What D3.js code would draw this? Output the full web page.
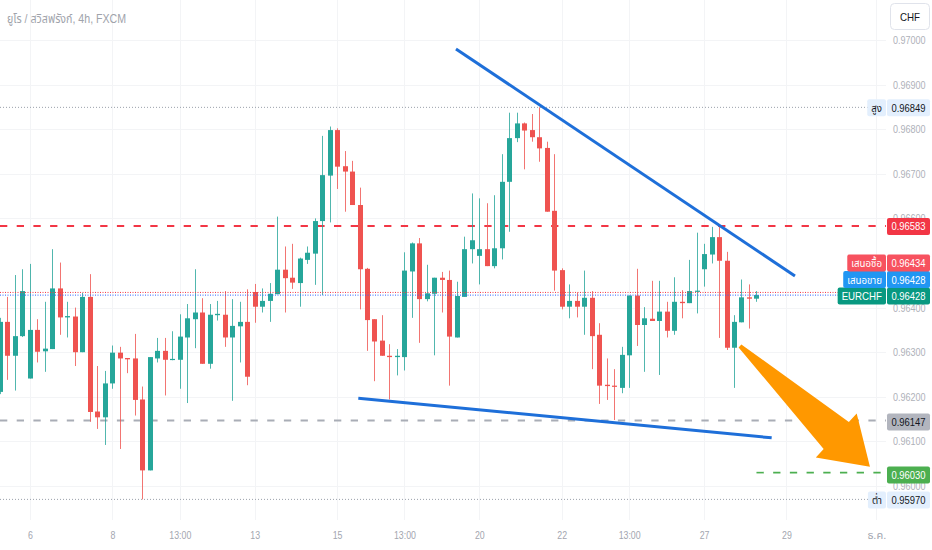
<!DOCTYPE html>
<html><head><meta charset="utf-8">
<script src="https://cdn.jsdelivr.net/npm/d3@7"></script>
<style>
body{margin:0;background:#fff;}
svg{display:block;font-family:"Liberation Sans Narrow","Liberation Sans","Noto Sans Thai","Noto Sans","DejaVu Sans",sans-serif;}
</style>
</head><body>
<svg id="c" width="932" height="550"></svg>
<script>
// ---- data (EURCHF 4h, FXCM) ----
const opens  = [0.96211,0.96368,0.96292,0.96336,0.96241,0.96350,0.96302,0.96307,0.96443,0.96378,
                0.96380,0.96300,0.96424,0.96167,0.96154,0.96230,0.96299,0.96287,0.96286,0.96194,
                0.96035,0.96286,0.96303,0.96283,0.96283,0.96333,0.96374,0.96389,0.96274,0.96383,
                0.96384,0.96333,0.96358,0.96368,0.96435,0.96402,0.96415,0.96430,0.96485,0.96467,
                0.96455,0.96507,0.96521,0.96594,0.96696,0.96798,0.96717,0.96705,0.96630,0.96487,
                0.96374,0.96326,0.96292,0.96289,0.96289,0.96481,0.96544,0.96419,0.96431,0.96467,
                0.96462,0.96333,0.96424,0.96531,0.96516,0.96531,0.96493,0.96533,0.96682,0.96780,
                0.96813,0.96798,0.96782,0.96758,0.96617,0.96484,0.96402,0.96415,0.96402,0.96422,
                0.96339,0.96227,0.96225,0.96220,0.96293,0.96427,0.96361,0.96375,0.96370,0.96391,
                0.96348,0.96413,0.96410,0.96436,0.96486,0.96519,0.96558,0.96505,0.96310,0.96367,
                0.96423,0.96420];
const highs  = [0.96377,0.96424,0.96473,0.96486,0.96498,0.96374,0.96413,0.96531,0.96501,0.96413,
                0.96400,0.96433,0.96475,0.96269,0.96258,0.96315,0.96312,0.96287,0.96341,0.96223,
                0.96289,0.96332,0.96332,0.96347,0.96385,0.96408,0.96486,0.96421,0.96408,0.96415,
                0.96437,0.96419,0.96413,0.96441,0.96453,0.96443,0.96455,0.96604,0.96537,0.96543,
                0.96512,0.96537,0.96600,0.96785,0.96806,0.96802,0.96751,0.96729,0.96669,0.96489,
                0.96374,0.96383,0.96318,0.96307,0.96524,0.96546,0.96556,0.96496,0.96467,0.96480,
                0.96483,0.96458,0.96559,0.96656,0.96645,0.96634,0.96652,0.96744,0.96837,0.96837,
                0.96815,0.96834,0.96849,0.96772,0.96744,0.96488,0.96452,0.96434,0.96483,0.96437,
                0.96365,0.96286,0.96262,0.96312,0.96427,0.96487,0.96401,0.96460,0.96460,0.96413,
                0.96468,0.96439,0.96507,0.96568,0.96543,0.96581,0.96581,0.96525,0.96383,0.96463,
                0.96452,0.96437];
const lows   = [0.96206,0.96238,0.96214,0.96334,0.96241,0.96277,0.96256,0.96307,0.96339,0.96333,
                0.96269,0.96300,0.96144,0.96128,0.96092,0.96218,0.96083,0.96253,0.96158,0.95970,
                0.96035,0.96277,0.96203,0.96282,0.96218,0.96186,0.96309,0.96274,0.96263,0.96371,
                0.96312,0.96191,0.96277,0.96226,0.96366,0.96389,0.96368,0.96430,0.96389,0.96442,
                0.96402,0.96498,0.96451,0.96428,0.96591,0.96666,0.96615,0.96630,0.96396,0.96303,
                0.96235,0.96292,0.96194,0.96248,0.96259,0.96377,0.96321,0.96414,0.96293,0.96389,
                0.96225,0.96333,0.96424,0.96499,0.96452,0.96493,0.96488,0.96508,0.96570,0.96771,
                0.96710,0.96772,0.96727,0.96615,0.96438,0.96396,0.96376,0.96378,0.96339,0.96262,
                0.96184,0.96193,0.96148,0.96208,0.96220,0.96314,0.96256,0.96370,0.96249,0.96333,
                0.96339,0.96376,0.96410,0.96387,0.96447,0.96499,0.96332,0.96305,0.96220,0.96367,
                0.96353,0.96413];
const closes = [0.96368,0.96292,0.96336,0.96437,0.96350,0.96301,0.96308,0.96443,0.96378,0.96381,
                0.96300,0.96424,0.96166,0.96154,0.96230,0.96299,0.96286,0.96284,0.96193,0.96035,
                0.96289,0.96303,0.96283,0.96285,0.96335,0.96376,0.96389,0.96274,0.96384,0.96386,
                0.96333,0.96359,0.96368,0.96245,0.96402,0.96415,0.96431,0.96485,0.96466,0.96456,
                0.96510,0.96523,0.96594,0.96697,0.96798,0.96716,0.96705,0.96630,0.96486,0.96372,
                0.96324,0.96292,0.96289,0.96292,0.96483,0.96544,0.96419,0.96432,0.96467,0.96462,
                0.96335,0.96426,0.96531,0.96551,0.96531,0.96493,0.96533,0.96682,0.96780,0.96813,
                0.96797,0.96782,0.96757,0.96615,0.96483,0.96402,0.96415,0.96402,0.96422,0.96336,
                0.96225,0.96224,0.96223,0.96294,0.96427,0.96361,0.96376,0.96370,0.96391,0.96348,
                0.96413,0.96410,0.96437,0.96438,0.96520,0.96558,0.96505,0.96310,0.96368,0.96423,
                0.96420,0.96428];

const xTickIdx    = [4, 15, 24, 34, 45, 54, 64, 75, 84, 94, 105, 117];
const xTickLabels = ["6","8","13:00","13","15","13:00","20","22","13:00","27","29","ธ.ค."];
const yTicks      = [0.970,0.969,0.968,0.967,0.966,0.964,0.963,0.962,0.961,0.960];

const title = "ยูโร / สวิสฟรังก์, 4h, FXCM";
const highLevel = 0.96849, lowLevel = 0.95970;
const resistance = 0.96583, support = 0.96147, target = 0.96030;
const bid = 0.96434, ask = 0.96428, last = 0.96428;
const upperTrend = [[60.88,0.96980],[106.14,0.96471]];
const lowerTrend = [[47.84,0.96197],[103.03,0.96108]];
const arrowPts   = [[98.8,0.96314],[116.15,0.96043]];

// ---- layout ----
const plotR = 886, plotB = 520;
const UP = "#26a69a", DOWN = "#ef5350";

const x = d3.scaleLinear().domain([0,117]).range([0,876.3]);
const y = d3.scaleLinear().domain([0.960,0.970]).range([486,40]);

// condense helper (reference uses a narrow face); returns condensed width
function condense(sel, k){
  let out = 0;
  sel.each(function(){
    const w = this.getComputedTextLength();
    if (w > 0) d3.select(this).attr("textLength", w*k).attr("lengthAdjust","spacingAndGlyphs");
    out = w*k;
  });
  return out;
}

const svg = d3.select("#c");
svg.append("defs").append("clipPath").attr("id","plot")
  .append("rect").attr("x",0).attr("y",0).attr("width",plotR).attr("height",plotB);

// faint grid
const grid = svg.append("g");
grid.selectAll("line.v").data(xTickIdx).join("line")
  .attr("x1",d=>Math.round(x(d))+0.5).attr("x2",d=>Math.round(x(d))+0.5)
  .attr("y1",0).attr("y2",plotB).attr("stroke","#f3f4f6");
grid.selectAll("line.h").data(yTicks).join("line")
  .attr("y1",d=>Math.round(y(d))+0.5).attr("y2",d=>Math.round(y(d))+0.5)
  .attr("x1",0).attr("x2",plotR).attr("stroke","#f3f4f6");

const plot = svg.append("g").attr("clip-path","url(#plot)");

// horizontal level lines
function hline(v, x0, x1, color, width, dash){
  plot.append("line").attr("x1",x0).attr("x2",x1)
    .attr("y1",y(v)).attr("y2",y(v))
    .attr("stroke",color).attr("stroke-width",width).attr("stroke-dasharray",dash);
}
hline(highLevel, 0, 870, "#9aa0aa", 1, "1,2");
hline(lowLevel, 0, 870, "#9aa0aa", 1, "1,2");
hline(resistance, 0, plotR, "#f23645", 2, "7.3,9.4");
hline(support, 0, plotR, "#a9adb6", 2, "7.3,9.4");
hline(target, x(opens.length-1), plotR, "#4caf50", 1.6, "7.3,9.4");

// candles
const idx = d3.range(opens.length);
const cg = plot.append("g");
cg.selectAll("line.w").data(idx).join("line")
  .attr("x1",i=>Math.round(x(i))+0.5).attr("x2",i=>Math.round(x(i))+0.5)
  .attr("y1",i=>y(highs[i])).attr("y2",i=>y(lows[i]))
  .attr("stroke",i=>closes[i]>=opens[i]?UP:DOWN).attr("stroke-width",1).attr("opacity",0.8);
cg.selectAll("rect.b").data(idx).join("rect")
  .attr("x",i=>Math.round(x(i))-2)
  .attr("width",5)
  .attr("y",i=>y(Math.max(opens[i],closes[i])))
  .attr("height",i=>Math.max(1.2, Math.abs(y(opens[i])-y(closes[i]))))
  .attr("fill",i=>closes[i]>=opens[i]?UP:DOWN);

// bid / ask dotted lines
hline(bid, 0, plotR, "#f23645", 1, "1,1.5");
hline(ask, 0, plotR, "#2962ff", 1, "1,1.5");

// trend lines
const line = d3.line().x(d=>x(d[0])).y(d=>y(d[1]));
[upperTrend, lowerTrend].forEach(t=>{
  plot.append("path").attr("d",line(t)).attr("fill","none")
    .attr("stroke","#1e6fd9").attr("stroke-width",3).attr("stroke-linecap","butt");
});

// arrow
(function(){
  const T=[x(arrowPts[0][0]), y(arrowPts[0][1])], P=[x(arrowPts[1][0]), y(arrowPts[1][1])];
  const dx=P[0]-T[0], dy=P[1]-T[1], L=Math.hypot(dx,dy);
  const u=[dx/L,dy/L], n=[-u[1],u[0]];
  const hl=46, hw=30, sw=18.5, tw=2;
  const B=[P[0]-u[0]*hl, P[1]-u[1]*hl];
  const pt=(p,k)=>[p[0]+n[0]*k, p[1]+n[1]*k];
  const poly=[pt(T,tw),pt(B,sw),pt(B,hw),P,pt(B,-hw),pt(B,-sw),pt(T,-tw)];
  svg.append("path").attr("d","M"+poly.map(p=>p.join(",")).join("L")+"Z")
    .attr("fill","#ff9800");
})();

// axes
const yAxis = svg.append("g").attr("transform","translate(893,0)")
  .call(d3.axisRight(y).tickValues(yTicks).tickFormat(d3.format(".5f")).tickSize(0).tickPadding(0));
yAxis.select(".domain").remove();
yAxis.selectAll("text").attr("fill","#aeb1b9").attr("font-size",11)
  .attr("font-family","'Liberation Sans Narrow','Liberation Sans',sans-serif");
condense(yAxis.selectAll("text"), 0.82);

const xAxis = svg.append("g").attr("transform","translate(0,528)")
  .call(d3.axisBottom(x).tickValues(xTickIdx).tickFormat((d,i)=>xTickLabels[i]).tickSize(0).tickPadding(3));
xAxis.select(".domain").remove();
xAxis.selectAll("text").attr("fill","#a3a6af").attr("font-size",11)
  .attr("font-family","'Liberation Sans Narrow','Liberation Sans','Noto Sans Thai',sans-serif");
condense(xAxis.selectAll("text").filter(function(){ return /^[0-9:]+$/.test(this.textContent); }), 0.8);

// title
const tt = svg.append("text").attr("x",7).attr("y",23).attr("font-size",12.5).attr("fill","#a0a3ab")
  .text(title);
condense(tt, 0.85);

// currency box
svg.append("rect").attr("x",890.5).attr("y",3.5).attr("width",39).attr("height",26).attr("rx",4)
  .attr("fill","#fff").attr("stroke","#e0e3eb");
const ct = svg.append("text").attr("x",910).attr("y",20.5).attr("text-anchor","middle")
  .attr("font-size",11.5).attr("fill","#131722").text("CHF");
condense(ct, 0.85);

// price tags
function tag(v, yc, name, bg, fg){
  const g = svg.append("g");
  const h = 17, top = yc - h/2;
  g.append("rect").attr("x",887).attr("y",top).attr("width",43).attr("height",h).attr("rx",2).attr("fill",bg);
  const pt = g.append("text").attr("x",908.5).attr("y",yc+4).attr("text-anchor","middle")
    .attr("font-size",11.5).attr("fill",fg).text(d3.format(".5f")(v));
  condense(pt, 0.82);
  if(name){
    const nb = g.append("rect").attr("y",top).attr("height",h).attr("rx",2).attr("fill",bg);
    const t = g.append("text").attr("x",882).attr("y",yc+4).attr("text-anchor","end")
      .attr("font-size",11).attr("fill",fg).text(name);
    const w = condense(t, 0.88);
    nb.attr("x",882-w-4).attr("width",w+8);
  }
}
tag(highLevel, y(highLevel)+0.5, "สูง", "#e3effd", "#131722");
tag(resistance, y(resistance)+0.5, null, "#f23645", "#ffffff");
tag(last, y(last)+1, "EURCHF", "#089981", "#ffffff");
tag(ask, y(last)+1-16.5, "เสนอขาย", "#2196f3", "#ffffff");
tag(bid, y(last)+1-33, "เสนอซื้อ", "#f7525f", "#ffffff");
tag(support, y(support)+1.5, null, "#b2b5be", "#131722");
tag(target, y(target)+2.5, null, "#4caf50", "#ffffff");
tag(lowLevel, y(lowLevel)+0.5, "ต่ำ", "#e3effd", "#131722");
</script>
</body></html>
